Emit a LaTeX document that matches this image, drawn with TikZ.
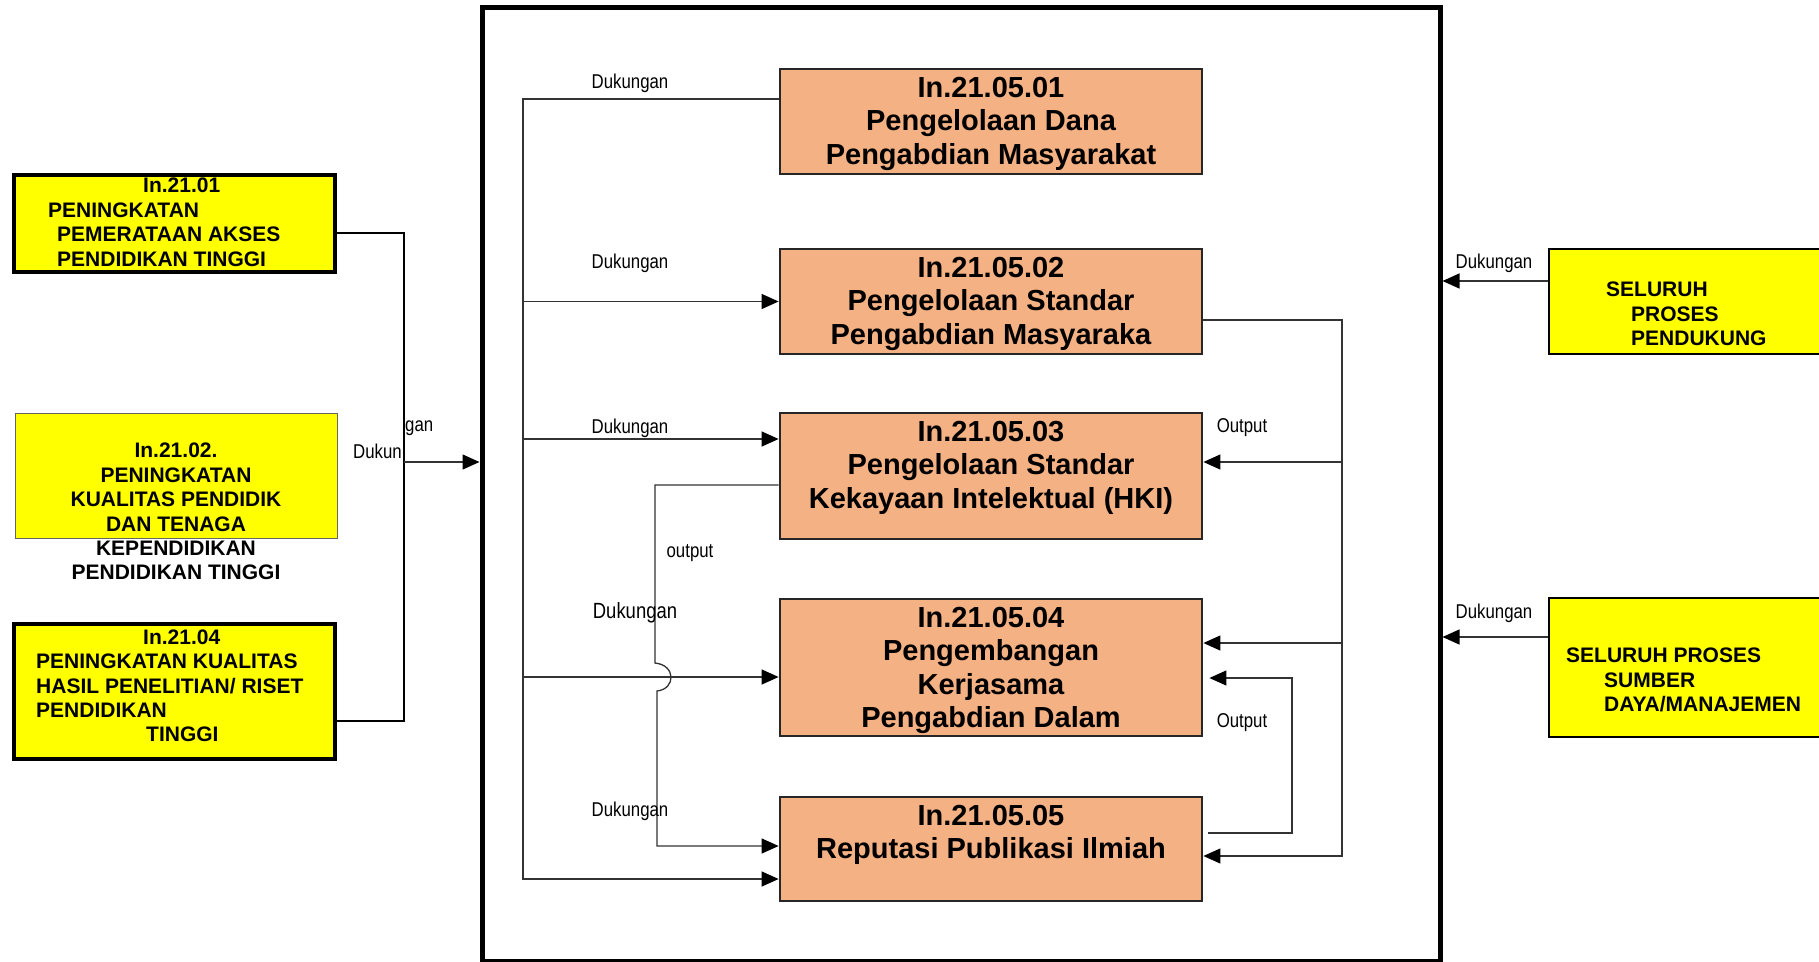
\documentclass[tikz,border=0pt]{standalone}
\usepackage{fontspec}
\setmainfont{Liberation Sans}
\newfontfamily\sempit[FakeStretch=0.84]{Liberation Sans}
\usetikzlibrary{arrows.meta}
\definecolor{jingga}{HTML}{F4B183}
\definecolor{kuning}{HTML}{FFFF00}

\begin{document}
\begin{tikzpicture}[x=1pt,y=-1pt,
  proses/.style={draw=black!85,line width=2.8pt,fill=jingga,minimum width=422pt,inner sep=0pt},
  judul/.style={font=\bfseries\fontsize{29}{33.5}\selectfont,align=center,inner sep=0pt,anchor=north},
  kotak/.style={draw,fill=kuning,inner sep=0pt},
  isi/.style={font=\bfseries\fontsize{21}{24.4}\selectfont,inner sep=0pt},
  ket/.style={font=\sempit\fontsize{20}{24}\selectfont,inner sep=0pt},
  garis/.style={draw=black!80,line width=1.3pt},
  panah/.style={-{Triangle[length=17pt,width=15pt,color=black]}}]
\path[use as bounding box,fill=white] (0,0) rectangle (1819,961);
\clip (0,0) rectangle (1819,961);

\node[draw,line width=5pt,minimum width=958pt,minimum height=954pt,inner sep=0pt] (bingkai) at (961,484) {};

\node[proses,minimum height=105pt] (p01) at (991,121.5) {};
\node[proses,minimum height=105pt] (p02) at (991,301.5) {};
\node[proses,minimum height=126pt] (p03) at (991,476) {};
\node[proses,minimum height=137pt] (p04) at (991,667.5) {};
\node[proses,minimum height=104pt] (p05) at (991,849) {};
\node[judul] (t01) at ([yshift=-9pt]p01.north) {In.21.05.01\\Pengelolaan Dana\\Pengabdian Masyarakat};
\node[judul] (t02) at ([yshift=-9pt]p02.north) {In.21.05.02\\Pengelolaan Standar\\Pengabdian Masyaraka};
\node[judul] (t03) at ([yshift=-9pt]p03.north) {In.21.05.03\\Pengelolaan Standar\\Kekayaan Intelektual (HKI)};
\node[judul] (t04) at ([yshift=-9pt]p04.north) {In.21.05.04\\Pengembangan\\Kerjasama\\Pengabdian Dalam};
\node[judul] (t05) at ([yshift=-9pt]p05.north) {In.21.05.05\\Reputasi Publikasi Ilmiah};

\node[kotak,line width=4pt,minimum width=321pt,minimum height=97pt] (in2101) at (174.5,223.5) {};
\node[kotak,draw=black!60,line width=1pt,minimum width=322pt,minimum height=125pt] (in2102) at (176,475.5) {};
\node[kotak,line width=4pt,minimum width=321pt,minimum height=135pt] (in2104) at (174.5,691.5) {};
\node[isi,anchor=north west,align=left] (t2101) at (48,178) {\hspace*{95pt}In.21.01\\PENINGKATAN\\\hspace*{9pt}PEMERATAAN AKSES\\\hspace*{9pt}PENDIDIKAN TINGGI};
\node[isi,anchor=north,align=center] (t2102) at (176,443) {In.21.02.\\PENINGKATAN\\KUALITAS PENDIDIK\\DAN TENAGA\\KEPENDIDIKAN\\PENDIDIKAN TINGGI};
\node[isi,anchor=north west,align=left] (t2104) at (36,629.5) {\hspace*{107pt}In.21.04\\PENINGKATAN KUALITAS\\HASIL PENELITIAN/ RISET\\PENDIDIKAN\\\hspace*{110pt}TINGGI};

\node[kotak,line width=2.5pt,minimum width=281pt,minimum height=105pt] (pendukung) at (1689.5,301.5) {};
\node[kotak,line width=2.5pt,minimum width=281pt,minimum height=139pt] (sdm) at (1689.5,667.5) {};
\node[isi,anchor=north west,align=left] (tpendukung) at (1606,282) {SELURUH\\\hspace*{25pt}PROSES\\\hspace*{25pt}PENDUKUNG};
\node[isi,anchor=north west,align=left] (tsdm) at (1566,648) {SELURUH PROSES\\\hspace*{38pt}SUMBER\\\hspace*{38pt}DAYA/MANAJEMEN};

\coordinate (gabung) at (404,462);
\draw[line width=2.2pt] ([yshift=-9.5pt]in2101.east) -| (gabung) |- ([yshift=-29.5pt]in2104.east);
\draw[garis,panah] (gabung) -- (gabung -| bingkai.west);
\node[ket,anchor=east] (dukun) at (402,451) {Dukun};
\node[ket,anchor=west] (gan) at (405,428) {gan};

\coordinate (busA) at (523,99);
\coordinate (busE) at (523,879);
\coordinate (masukC) at ([yshift=37pt]p03.west);
\coordinate (masukD) at ([yshift=-9.5pt]p04.west);
\coordinate (keluarC) at ([yshift=-9pt]p03.west);
\coordinate (masukE) at ([yshift=3pt]p05.west);
\draw[garis,panah] (p01.west |- busA) -- (busA) -- (busE) -- (p05.west |- busE);
\draw[garis,panah] (busA |- p02.west) -- (p02.west);
\draw[garis,panah] (busA |- masukC) -- (masukC);
\draw[garis,panah] (busA |- masukD) -- (masukD);
\draw[garis,panah] (keluarC) -| (655,663) .. controls (676,665) and (676,689) .. (657,691) |- (masukE);

\coordinate (busKanan) at (1342,856);
\coordinate (keC) at ([yshift=14pt]p03.east);
\coordinate (keD) at ([yshift=24.5pt]p04.east);
\coordinate (putar) at (1292,760);
\draw[garis,panah] ([yshift=-18.5pt]p02.east) -| (busKanan) -- (p05.east |- busKanan);
\draw[garis,panah] (busKanan |- keC) -- (keC);
\draw[garis,panah] (busKanan |- keD) -- (keD);
\draw[garis,panah] ([xshift=5pt,yshift=16pt]p05.east) -| (putar) |- ([xshift=6pt,yshift=-10.5pt]p04.east);

\coordinate (dariP) at ([yshift=20.5pt]pendukung.west);
\coordinate (dariS) at ([yshift=30.5pt]sdm.west);
\draw[garis,panah] (dariP) -- (dariP -| bingkai.east);
\draw[garis,panah] (dariS) -- (dariS -| bingkai.east);

\node[ket] (d01) at (630,83) {Dukungan};
\node[ket] (d02) at (630,263) {Dukungan};
\node[ket] (d03) at (630,428) {Dukungan};
\node[ket,font=\sempit\fontsize{22}{26}\selectfont] (d04) at (635,613) {Dukungan};
\node[ket] (d05) at (630,811) {Dukungan};
\node[ket] (out1) at (690,553) {output};
\node[ket] (out2) at (1242,428) {Output};
\node[ket] (out3) at (1242,723) {Output};
\node[ket] (dk1) at (1494,263) {Dukungan};
\node[ket] (dk2) at (1494,613) {Dukungan};
\end{tikzpicture}
\end{document}
